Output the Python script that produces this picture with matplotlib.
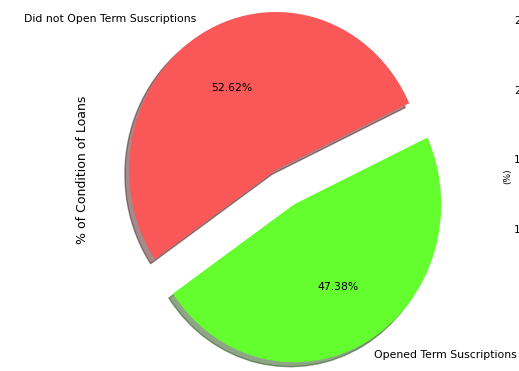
import numpy as np
import matplotlib
matplotlib.use("Agg")
import matplotlib.pyplot as plt

# Pie data
labels = ["Did not Open Term Suscriptions", "Opened Term Suscriptions"]
shares = [52.62, 47.38]
colors = ["#FA5858", "#64FE2E"]
explode = [0, 0.25]

# second (cut-off) subplot on the right
right_ticks = [10, 15, 20, 25]
right_ticklabels = ["10", "15", "20", "25"]

W, H = 519, 371
fig = plt.figure(figsize=(W / 100, H / 100), dpi=100)

# pie axes, placed in pixels
cx, cy = 276, 170          # pie centre (px from top-left)
rx, ry = 147, 158          # radius in px (the picture is slightly stretched)
left, right = 92, 460
ax = fig.add_axes([left / W, 0, (right - left) / W, 1])

ax.pie(shares, explode=explode, labels=labels, colors=colors,
       autopct="%1.2f%%", shadow=True, startangle=25,
       textprops={"fontsize": 7.8})
ax.set_aspect("auto")
ax.set_xlim(-(cx - left) / rx, (right - cx) / rx)
ax.set_ylim(-(H - cy) / ry, cy / ry)
ax.set_ylabel("% of Condition of Loans", fontsize=9.0)
ax.yaxis.set_label_coords((89 - left) / (right - left), (H - 170) / H)

# right subplot, mostly outside the visible area
top2, bot2 = 10, 300
ax2 = fig.add_axes([537 / W, (H - bot2) / H, 0.5, (bot2 - top2) / H])
ax2.set_ylim(4.91, 25.72)
ax2.set_yticks(right_ticks)
ax2.set_yticklabels(right_ticklabels, fontsize=7.6)
ax2.set_ylabel("(%)", fontsize=6.5)
ax2.yaxis.set_label_coords(-(537 - 512) / (0.5 * W), (bot2 - 176) / (bot2 - top2))

fig.savefig("out.png", dpi=100)
